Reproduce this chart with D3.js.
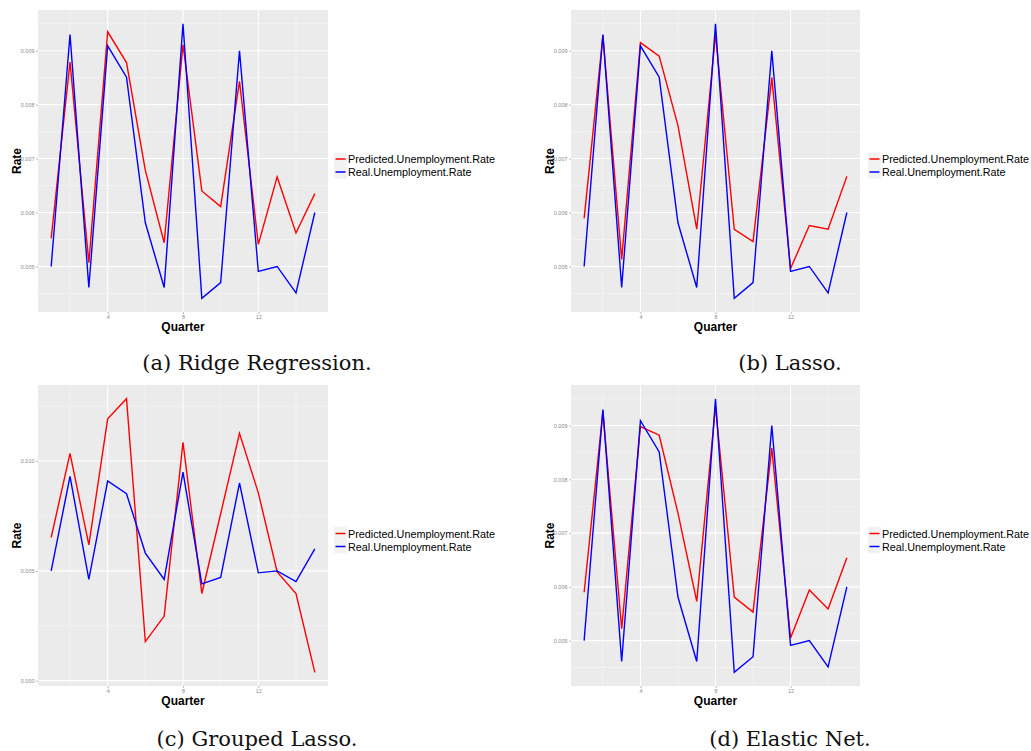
<!DOCTYPE html>
<html>
<head>
<meta charset="utf-8">
<script src="https://cdn.jsdelivr.net/npm/d3@7"></script>
<style>
  html, body { margin: 0; padding: 0; background: #ffffff; }
  svg { display: block; }
</style>
</head>
<body>
<svg id="chart" width="1031" height="751"></svg>
<script>
// Quarterly unemployment rate: real values and four regression models' predictions
const quarters = [1, 2, 3, 4, 5, 6, 7, 8, 9, 10, 11, 12, 13, 14, 15];
const realRate = [0.00500, 0.00930, 0.00461, 0.00909, 0.00851, 0.00581, 0.00461, 0.00950, 0.00441, 0.00470, 0.00900, 0.00491, 0.00500, 0.00451, 0.00600];
const ridgePred = [0.00552, 0.00879, 0.00507, 0.00935, 0.00878, 0.00678, 0.00544, 0.00911, 0.00640, 0.00611, 0.00843, 0.00541, 0.00666, 0.00562, 0.00635];
const lassoPred = [0.00589, 0.00928, 0.00513, 0.00915, 0.00890, 0.00761, 0.00569, 0.00930, 0.00569, 0.00546, 0.00850, 0.00496, 0.00576, 0.00569, 0.00667];
const groupedLassoPred = [0.00652, 0.01035, 0.00618, 0.01192, 0.01284, 0.00178, 0.00294, 0.01085, 0.00397, 0.00760, 0.01126, 0.00855, 0.00495, 0.00397, 0.00038];
const elasticNetPred = [0.00590, 0.00926, 0.00522, 0.00898, 0.00882, 0.00737, 0.00573, 0.00935, 0.00581, 0.00553, 0.00858, 0.00505, 0.00594, 0.00559, 0.00654];

const xMajorTicks = [4, 8, 12];
const xMinorTicks = [2, 6, 10, 14];
const yTicksNarrow = [0.005, 0.006, 0.007, 0.008, 0.009];
const yMinorNarrow = [0.0045, 0.0055, 0.0065, 0.0075, 0.0085, 0.0095];
const yTicksWide = [0.000, 0.005, 0.010];
const yMinorWide = [0.0025, 0.0075, 0.0125];

const seriesNames = ["Predicted.Unemployment.Rate", "Real.Unemployment.Rate"];
const seriesColors = ["#ff0000", "#0000ff"];

const captions = ["(a) Ridge Regression.", "(b) Lasso.", "(c) Grouped Lasso.", "(d) Elastic Net."];

const panels = [
  { pred: ridgePred, yTicks: yTicksNarrow, yMinor: yMinorNarrow, fmt: ".3f",
    left: 38, top: 10, width: 290, height: 302, legendX: 334, legendY: 152.5, caption: captions[0], capX: 257, capY: 370 },
  { pred: lassoPred, yTicks: yTicksNarrow, yMinor: yMinorNarrow, fmt: ".3f",
    left: 571, top: 10, width: 289, height: 302, legendX: 868, legendY: 152.5, caption: captions[1], capX: 790, capY: 370 },
  { pred: groupedLassoPred, yTicks: yTicksWide, yMinor: yMinorWide, fmt: ".3f",
    left: 38, top: 385, width: 290, height: 301, legendX: 334, legendY: 527, caption: captions[2], capX: 257, capY: 746 },
  { pred: elasticNetPred, yTicks: yTicksNarrow, yMinor: yMinorNarrow, fmt: ".3f",
    left: 571, top: 385, width: 289, height: 301, legendX: 868, legendY: 527, caption: captions[3], capX: 790, capY: 746 }
];

const svg = d3.select("#chart");

function expand(lo, hi) {
  const pad = (hi - lo) * 0.05;
  return [lo - pad, hi + pad];
}

panels.forEach(p => {
  const g = svg.append("g");
  const all = p.pred.concat(realRate);
  const x = d3.scaleLinear()
    .domain(expand(d3.min(quarters), d3.max(quarters)))
    .range([p.left, p.left + p.width]);
  const y = d3.scaleLinear()
    .domain(expand(d3.min(all), d3.max(all)))
    .range([p.top + p.height, p.top]);

  // panel background
  g.append("rect")
    .attr("x", p.left).attr("y", p.top)
    .attr("width", p.width).attr("height", p.height)
    .attr("fill", "#ebebeb");

  // minor grid
  g.selectAll(".yminor").data(p.yMinor.filter(v => v >= y.domain()[0] && v <= y.domain()[1]))
    .enter().append("line")
    .attr("x1", p.left).attr("x2", p.left + p.width)
    .attr("y1", d => y(d)).attr("y2", d => y(d))
    .attr("stroke", "#f7f7f7").attr("stroke-width", 0.6);
  g.selectAll(".xminor").data(xMinorTicks)
    .enter().append("line")
    .attr("y1", p.top).attr("y2", p.top + p.height)
    .attr("x1", d => x(d)).attr("x2", d => x(d))
    .attr("stroke", "#f7f7f7").attr("stroke-width", 0.6);

  // major grid
  g.selectAll(".ymajor").data(p.yTicks)
    .enter().append("line")
    .attr("x1", p.left).attr("x2", p.left + p.width)
    .attr("y1", d => y(d)).attr("y2", d => y(d))
    .attr("stroke", "#ffffff").attr("stroke-width", 1.1);
  g.selectAll(".xmajor").data(xMajorTicks)
    .enter().append("line")
    .attr("y1", p.top).attr("y2", p.top + p.height)
    .attr("x1", d => x(d)).attr("x2", d => x(d))
    .attr("stroke", "#ffffff").attr("stroke-width", 1.1);

  // axes
  const yAxis = d3.axisLeft(y).tickValues(p.yTicks).tickFormat(d3.format(p.fmt))
    .tickSizeInner(2).tickSizeOuter(0).tickPadding(1.5);
  const xAxis = d3.axisBottom(x).tickValues(xMajorTicks).tickFormat(d3.format("d"))
    .tickSizeInner(2).tickSizeOuter(0).tickPadding(1.5);

  const ya = g.append("g").attr("transform", `translate(${p.left},0)`).call(yAxis);
  const xa = g.append("g").attr("transform", `translate(0,${p.top + p.height})`).call(xAxis);
  [ya, xa].forEach(a => {
    a.select(".domain").remove();
    a.selectAll(".tick line").attr("stroke", "#8c8c8c").attr("stroke-width", 0.6);
    a.selectAll(".tick text").attr("fill", "#8c8c8c")
      .style("font-family", "'Liberation Sans', Arial, sans-serif").style("font-size", "5.5px");
  });

  // series lines: predicted first, real on top
  const line = d3.line().x((d, i) => x(quarters[i])).y(d => y(d));
  [p.pred, realRate].forEach((vals, k) => {
    g.append("path")
      .datum(vals)
      .attr("d", line)
      .attr("fill", "none")
      .attr("stroke", seriesColors[k])
      .attr("stroke-width", 1.4)
      .attr("stroke-linejoin", "miter");
  });

  // axis titles
  g.append("text")
    .attr("x", p.left + p.width / 2).attr("y", p.top + p.height + 19)
    .attr("text-anchor", "middle")
    .style("font-family", "'Liberation Sans', Arial, sans-serif")
    .style("font-size", "12px").style("font-weight", "bold")
    .text("Quarter");
  g.append("text")
    .attr("transform", `translate(${p.left - 17},${p.top + p.height / 2}) rotate(-90)`)
    .attr("text-anchor", "middle")
    .style("font-family", "'Liberation Sans', Arial, sans-serif")
    .style("font-size", "12px").style("font-weight", "bold")
    .text("Rate");

  // legend
  const lg = g.append("g").attr("transform", `translate(${p.legendX},${p.legendY})`);
  seriesNames.forEach((name, k) => {
    const row = lg.append("g").attr("transform", `translate(0,${k * 13})`);
    row.append("rect").attr("x", 0).attr("y", 0).attr("width", 13).attr("height", 13)
      .attr("fill", "#f2f2f2");
    row.append("line").attr("x1", 1.5).attr("x2", 11.5).attr("y1", 6.5).attr("y2", 6.5)
      .attr("stroke", seriesColors[k]).attr("stroke-width", 1.5);
    row.append("text").attr("x", 14).attr("y", 10.5)
      .style("font-family", "'Liberation Sans', Arial, sans-serif")
      .style("font-size", "10.8px").attr("fill", "#000")
      .text(name);
  });

  // caption
  svg.append("text")
    .attr("x", p.capX).attr("y", p.capY)
    .attr("text-anchor", "middle")
    .style("font-family", "'DejaVu Serif', 'Liberation Serif', serif")
    .style("font-size", "21px")
    .attr("fill", "#111")
    .text(p.caption);
});
</script>
</body>
</html>
